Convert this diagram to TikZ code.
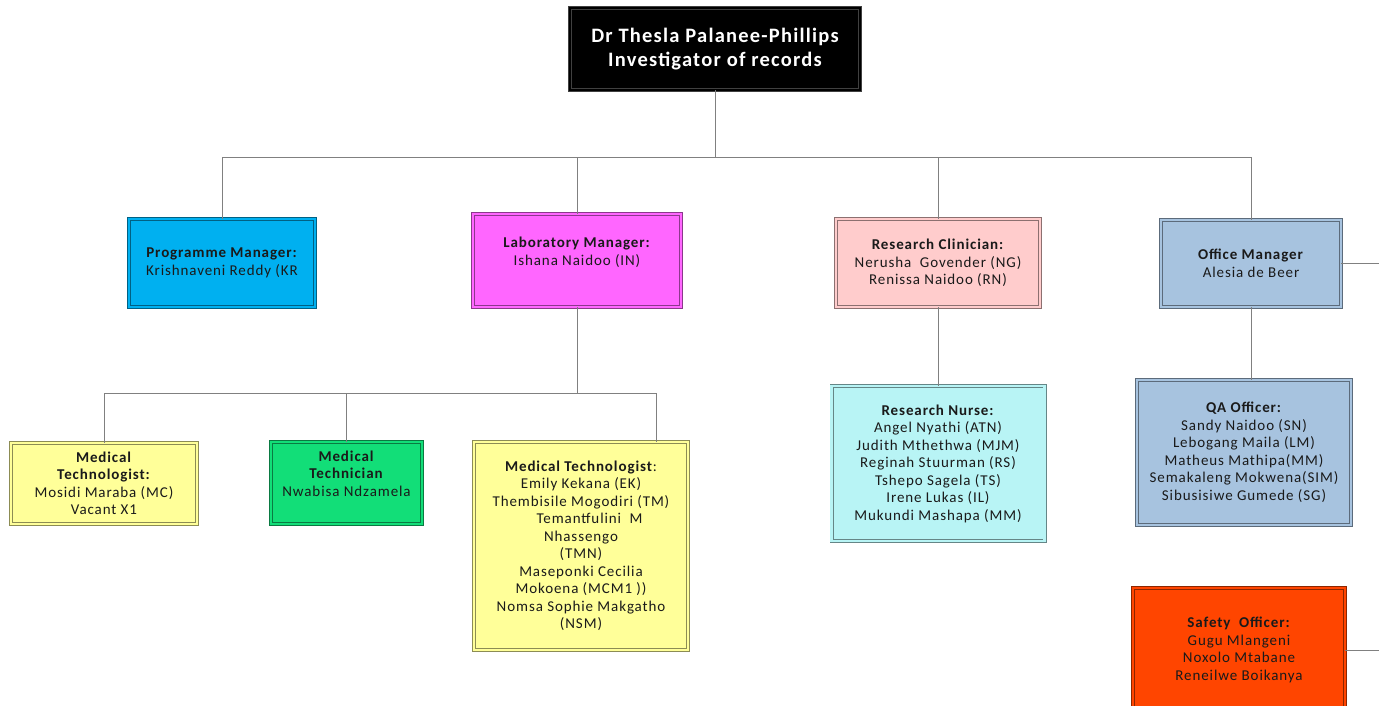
\documentclass[tikz,border=0pt]{standalone}
\usepackage{fontspec}
\setmainfont{Carlito}[LetterSpace=6]
\usepackage{xcolor}
\usetikzlibrary{shadows}
\definecolor{ink}{HTML}{1A1A1A}
\definecolor{wire}{HTML}{808080}
\definecolor{cblack}{HTML}{000000}
\definecolor{cblue}{HTML}{00B0F0}
\definecolor{cmagenta}{HTML}{FF66FF}
\definecolor{cpink}{HTML}{FFCCCC}
\definecolor{csteel}{HTML}{A7C3DF}
\definecolor{cyellow}{HTML}{FFFF99}
\definecolor{cgreen}{HTML}{12DE78}
\definecolor{caqua}{HTML}{B8F4F5}
\definecolor{corange}{HTML}{FF4500}
\tikzset{
  card/.style={rectangle, draw=#1!55!black, fill=#1, double=#1, double distance=2.2pt,
    line width=0.9pt, align=center, text=ink, inner sep=2pt,
    font=\fontsize{15}{17.5}\selectfont,
    drop shadow={shadow xshift=2pt, shadow yshift=-2pt, opacity=0.25}},
  chief/.style={card=cblack, draw=black!75, text=white,
    font=\fontsize{20.5}{24}\selectfont\bfseries},
  link/.style={draw=wire, line width=0.9pt},
}
\begin{document}
\begin{tikzpicture}[x=1pt,y=-1pt]
  \useasboundingbox (0,0) rectangle (1379,705);
  \clip (0,0) rectangle (1379,705);
  % top level
  \node[chief, minimum width=290pt, minimum height=82pt] (pi) at (715,49)
    {Dr Thesla Palanee-Phillips\\Investigator of records};
  % managers
  \node[card=cblue, minimum width=186pt, minimum height=88pt] (pm) at (222,263)
    {\textbf{Programme Manager:}\\Krishnaveni Reddy (KR};
  \node[card=cmagenta, minimum width=208pt, minimum height=93pt] (lm) at (577,260.5)
    {\textbf{Laboratory Manager:}\\Ishana Naidoo (IN)\\[-4pt]\strut};
  \node[card=cpink, minimum width=204pt, minimum height=88pt] (rc) at (938,263)
    {\textbf{Research Clinician:}\\Nerusha\ \ Govender (NG)\\Renissa Naidoo (RN)};
  \node[card=csteel, minimum width=180pt, minimum height=87pt] (om) at (1251,263.5)
    {\textbf{Office Manager}\\Alesia de Beer};
  % laboratory staff
  \node[card=cyellow, minimum width=186pt, minimum height=81pt] (mtA) at (104,483.5)
    {\textbf{Medical}\\\textbf{Technologist:}\\Mosidi Maraba (MC)\\Vacant X1};
  \node[card=cgreen, minimum width=151pt, minimum height=82pt] (mtech) at (346.5,483)
    {\textbf{Medical}\\\textbf{Technician}\\Nwabisa Ndzamela\\[-4pt]\strut};
  \node[card=cyellow, minimum width=214pt, minimum height=208pt] (mtB) at (581,546)
    {\textbf{Medical Technologist}:\\Emily Kekana (EK)\\Thembisile Mogodiri (TM)\\
     \ \ \ \ Temantfulini\ \ M\\Nhassengo\\(TMN)\\Maseponki Cecilia\\
     Mokoena (MCM1 ))\\Nomsa Sophie Makgatho\\(NSM)};
  % clinical and office staff
  \node[card=caqua, minimum width=213pt, minimum height=155pt] (rn) at (938,463.5)
    {\textbf{Research Nurse:}\\Angel Nyathi (ATN)\\Judith Mthethwa (MJM)\\
     Reginah Stuurman (RS)\\Tshepo Sagela (TS)\\Irene Lukas (IL)\\Mukundi Mashapa (MM)};
  \node[card=csteel, minimum width=214pt, minimum height=145pt] (qa) at (1244,452.5)
    {\textbf{QA Officer:}\\Sandy Naidoo (SN)\\Lebogang Maila (LM)\\Matheus Mathipa(MM)\\
     Semakaleng Mokwena(SIM)\\Sibusisiwe Gumede (SG)};
  \node[card=corange, minimum width=212pt, minimum height=124pt] (so) at (1239,650)
    {\textbf{Safety\ \ Officer:}\\Gugu Mlangeni\\Noxolo Mtabane\\Reneilwe Boikanya};
  % connectors
  \coordinate (bus) at (715,157);
  \coordinate (labbus) at (577,393);
  \coordinate (edge) at (1379,263);
  \draw[link] (pi.south) -- (bus);
  \foreach \n in {pm,lm,rc,om}
    \draw[link] (bus) -| (\n.north);
  \draw[link] (lm.south) -- (labbus);
  \foreach \n in {mtA,mtech}
    \draw[link] (labbus) -| (\n.north);
  \draw[link] (labbus) -| ([xshift=-32pt]mtB.north east);
  \draw[link] (rc.south) -- (rc.south |- rn.north);
  \draw[link] (om.south) -- (om.south |- qa.north);
  \draw[link] (om.east) -- (om.east -| edge);
  \draw[link] (so.east) -- (so.east -| edge);
\end{tikzpicture}
\end{document}
